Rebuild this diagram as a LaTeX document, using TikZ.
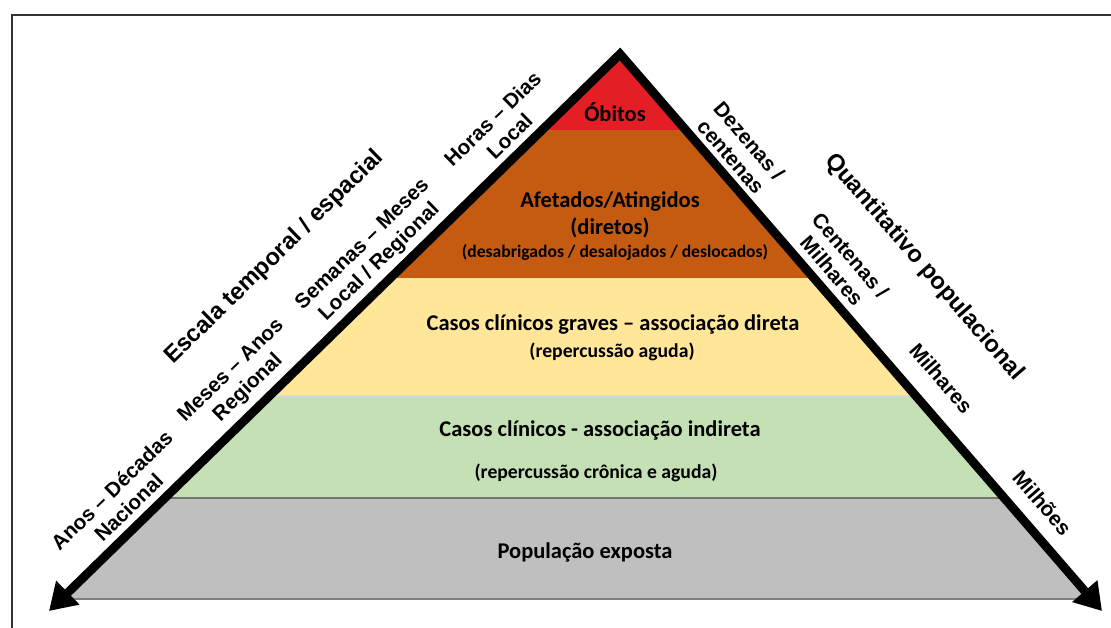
\documentclass[tikz,border=0pt]{standalone}
\usepackage{fontspec}
\setmainfont{Carlito}
\newfontfamily\axisfont{Liberation Sans}
\usepackage{tikz}
\usetikzlibrary{arrows.meta}

\definecolor{obitosred}{RGB}{227,30,36}
\definecolor{afetorange}{RGB}{197,90,17}
\definecolor{graveyellow}{RGB}{255,230,153}
\definecolor{indirgreen}{RGB}{197,224,180}
\definecolor{popgray}{RGB}{191,191,191}

\begin{document}
\begin{tikzpicture}[x=0.02cm, y=-0.02cm,
  band/.style={font=\bfseries\fontsize{12.8}{15}\selectfont, inner sep=0pt},
  bandsub/.style={font=\bfseries\fontsize{11.2}{13}\selectfont, inner sep=0pt},
  bandsmall/.style={font=\bfseries\fontsize{10}{12}\selectfont, inner sep=0pt},
  axlab/.style={font=\axisfont\bfseries\fontsize{11.8}{13.8}\selectfont, align=center, inner sep=0pt, sloped},
  axtitle/.style={font=\axisfont\bfseries\fontsize{13.5}{16}\selectfont, inner sep=0pt, sloped},
  sep/.style={line width=0.6pt}]

 \useasboundingbox (0,0) rectangle (1111,628);
 % frame
 \draw[line width=0.9pt, black!80] (12,700) -- (12,15) -- (1200,15);

 \coordinate (apex) at (620,54);
 \coordinate (ltip) at (49,611);
 \coordinate (rtip) at (1102,611);

 % bands
 \begin{scope}
  \clip (apex) -- (ltip) -- (rtip) -- cycle;
  \fill[obitosred]   (0,0)   rectangle (1111,130);
  \fill[afetorange]  (0,130) rectangle (1111,278);
  \fill[graveyellow] (0,278) rectangle (1111,396);
  \fill[indirgreen]  (0,396) rectangle (1111,498);
  \fill[popgray]     (0,498) rectangle (1111,599);
  \draw[sep, black!15] (0,396) -- (1111,396);
  \draw[sep, black!55] (0,498) -- (1111,498);
  \draw[sep, black!50] (0,599) -- (1111,599);
 \end{scope}

 % axes
 \draw[line width=5pt, line join=miter,
   {Triangle[length=15pt,width=18pt]}-{Triangle[length=15pt,width=18pt]}]
   (ltip) -- (apex) -- (rtip);

 \path (ltip) -- (apex)
   node[axlab, pos=0.162, above=6pt] (anos) {Anos – Décadas\\Nacional}
   node[axlab, pos=0.374, above=6pt] (meses) {Meses – Anos\\Regional}
   node[axlab, pos=0.602, above=5pt] (semanas) {Semanas – Meses\\Local / Regional}
   node[axlab, pos=0.829, above=6pt] (horas) {Horas – Dias\\Local}
   node[axtitle, pos=0.512, above=48pt] (escala) {Escala temporal / espacial};

 \path (apex) -- (rtip)
   node[axlab, pos=0.204, above=5pt] (dezenas) {Dezenas /\\centenas}
   node[axlab, pos=0.411, above=6pt] (centenas) {Centenas /\\Milhares}
   node[axlab, pos=0.618, above=13pt] (milhares) {Milhares}
   node[axlab, pos=0.836, above=10pt] (milhoes) {Milhões}
   node[axtitle, pos=0.489, above=45pt] (quant) {Quantitativo populacional};

 % texts
 \node[band] (obitos) at (615,112) {Óbitos};
 \node[band] (afetados) at (610,201) {Afetados/Atingidos};
 \node[band] (diretos) at (610,228) {(diretos)};
 \node[bandsmall] (desab) at (615,252) {(desabrigados / desalojados / deslocados)};
 \node[band] (graves) at (613,325) {Casos clínicos graves – associação direta};
 \node[bandsub] (aguda) at (612,352) {(repercussão aguda)};
 \node[band] (indireta) at (600,430) {Casos clínicos - associação indireta};
 \node[bandsub] (cronica) at (596,473) {(repercussão crônica e aguda)};
 \node[band] (populacao) at (585,552) {População exposta};

\end{tikzpicture}
\end{document}
